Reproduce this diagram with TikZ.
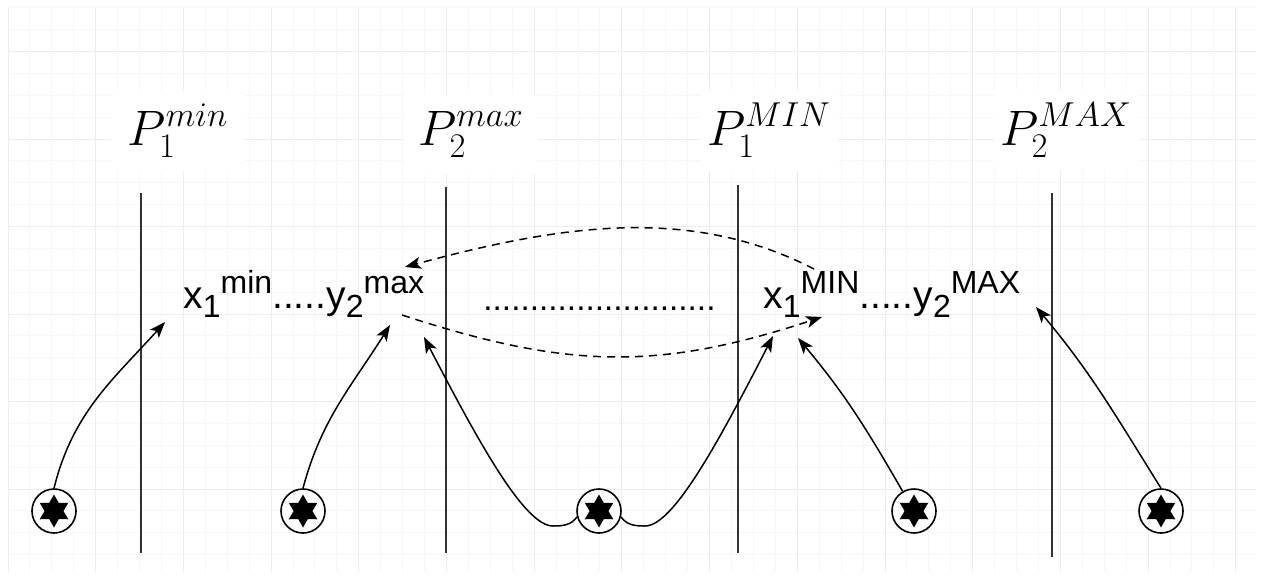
\documentclass[tikz,border=0pt]{standalone}
\usepackage{fontspec}
\newfontfamily\arialfont{Liberation Sans}
\usetikzlibrary{arrows.meta,shapes.geometric}
\DeclareMathSizes{24.88}{24.88}{16}{12}

\newcommand{\varlab}[3]{#1\raisebox{-4.5pt}{\fontsize{16}{16}\selectfont #2}\raisebox{7.5pt}{\fontsize{16}{16}\selectfont #3}}

\begin{document}
\begin{tikzpicture}[
    x=0.5pt, y=0.5pt,
    minorgrid/.style = {draw=black!3, line width=0.5pt},
    majorgrid/.style = {draw=black!7, line width=0.5pt},
    bar/.style = {draw=black!80, line width=1pt},
    plabel/.style = {fill=white, minimum width=67pt, minimum height=40pt,
                     anchor=base, font=\fontsize{24.88}{30}\selectfont},
    vartext/.style = {inner sep=0pt, anchor=base west,
                      font=\arialfont\fontsize{19.5}{22}\selectfont},
    marker/.style = {circle, draw, line width=0.8pt, minimum size=22pt, inner sep=0pt},
    hexstar/.style = {star, star points=6, star point ratio=1.75, fill,
                      minimum size=16.5pt, inner sep=0pt},
    link/.style = {-{Stealth[length=8pt, width=6pt, inset=2pt]}, line width=0.75pt},
    hop/.style = {link, dash pattern=on 4pt off 3pt},
  ]
  \useasboundingbox (0,0) rectangle (1262,575);

  % background grid
  \foreach \i in {0,...,56}
    \draw[minorgrid] ({8+21.925*\i},3) -- ({8+21.925*\i},567);
  \foreach \j in {0,...,25}
    \draw[minorgrid] (8,{567.25-21.875*\j}) -- (1256,{567.25-21.875*\j});
  \foreach \i in {0,...,14}
    \draw[majorgrid] ({8+87.7*\i},3) -- ({8+87.7*\i},567);
  \foreach \j in {0,...,5}
    \draw[majorgrid] (8,{523.5-87.5*\j}) -- (1256,{523.5-87.5*\j});

  % labels on top
  \node[plabel] (p1) at (178,430) {$P_1^{min}$};
  \node[plabel] (p2) at (471,430) {$P_2^{max}$};
  \node[plabel] (p3) at (769,430) {$P_1^{MIN}$};
  \node[plabel] (p4) at (1066,430) {$P_2^{MAX}$};

  % vertical bars
  \draw[bar] (141,382) -- (141,22);
  \draw[bar] (446,388) -- (446,22);
  \draw[bar] (738,390) -- (738,22);
  \draw[bar] (1052,382) -- (1052,18);

  % values
  \node[vartext] (xa) at (183,267) {\varlab{x}{1}{min}.....\varlab{y}{2}{max}};
  \node[vartext] (xb) at (763,267) {\varlab{x}{1}{MIN}.....\varlab{y}{2}{MAX}};
  \node[vartext, font=\arialfont\fontsize{16.7}{20}\selectfont] (gap) at (483,265)
    {.........................};

  % markers
  \foreach \n/\x in {1/54, 2/303, 3/599, 4/914, 5/1161} {
    \node[marker] (s\n) at (\x,64) {};
    \node[hexstar] (h\n) at (s\n) {};
  }

  \coordinate (t1) at (165,253);
  \coordinate (t2) at (390,250);
  \coordinate (t3) at (424,238);
  \coordinate (t4) at (773,239);
  \coordinate (t5) at (798,237);
  \coordinate (t6) at (1036,268);
  \coordinate (b3) at (553,49);
  \coordinate (b4) at (645,49);
  \coordinate (d1) at (814,306);
  \coordinate (d2) at (405,308);
  \coordinate (d3) at (402,260);
  \coordinate (d4) at (822,258);

  \draw[link] (s1.north) to[out=76, in=228] (t1);
  \draw[link] (s2.north) to[out=75, in=238] (t2);
  \draw[link] (s3.195) to[out=235, in=0] (b3) .. controls (525,49) and (480,130) .. (t3);
  \draw[link] (s3.-15) to[out=-55, in=180] (b4) .. controls (673,49) and (718,132) .. (t4);
  \draw[link] (s4) to[out=120, in=310] (t5);
  \draw[link] (s5.north) to[out=122, in=310] (t6);

  \draw[hop] (d1) .. controls (690,370) and (560,350) .. (d2);
  \draw[hop] (d3) .. controls (570,205) and (660,205) .. (d4);
\end{tikzpicture}
\end{document}
